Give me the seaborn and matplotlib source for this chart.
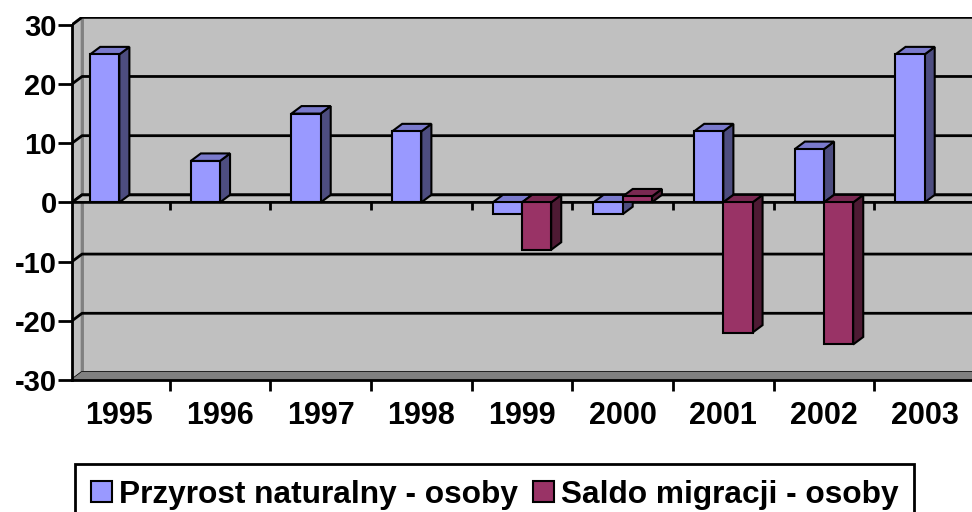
import matplotlib.pyplot as plt
import matplotlib.colors as mcolors
import numpy as np
import pandas as pd
import seaborn as sns
from matplotlib.patches import Polygon, Patch

# data
years = ['1995', '1996', '1997', '1998', '1999', '2000', '2001', '2002', '2003']
przyrost = [25, 7, 15, 12, -2, -2, 12, 9, 25]
saldo = [np.nan, np.nan, np.nan, np.nan, -8, 1, -22, -24, np.nan]
series = ['Przyrost naturalny - osoby', 'Saldo migracji - osoby']
y_ticks = [-30, -20, -10, 0, 10, 20, 30]

blue, red = '#9999ff', '#993366'
side_col = {blue: '#4d4d80', red: '#4d1a33'}
top_col = {blue: '#7a7acc', red: '#7a2952'}

df = pd.DataFrame({
    'rok': years * 2,
    'wartosc': przyrost + saldo,
    'seria': [series[0]] * len(years) + [series[1]] * len(years),
})

plt.rcParams['font.family'] = ['Liberation Sans', 'DejaVu Sans']
plt.rcParams['font.weight'] = 'bold'
plt.rcParams['axes.unicode_minus'] = False

fig = plt.figure(figsize=(9.72, 5.12), dpi=100)
ymin, ymax = -30, 31.4
ax = fig.add_axes([72 / 972, 1 - 380 / 512, 906 / 972, (ymax - ymin) * 5.92 / 512])

sns.barplot(data=df, x='rok', y='wartosc', hue='seria', palette=[blue, red],
            width=0.58, saturation=1, edgecolor='black', linewidth=1.5,
            errorbar=None, legend=False, ax=ax)

xmin, xmax = -0.47, 8.53
dx, dy = 0.1, 1.27
ax.set_xlim(xmin, xmax)
ax.set_ylim(ymin, ymax)
ax.set_facecolor('none')

# 3D walls and floors
ax.add_patch(Polygon([(xmin + dx, -30 + dy), (xmax + dx, -30 + dy), (xmax + dx, 30 + dy), (xmin + dx, 30 + dy)],
                     fc='#c0c0c0', ec='#808080', lw=2, zorder=0))
ax.add_patch(Polygon([(xmin, -30), (xmin + dx, -30 + dy), (xmin + dx, 30 + dy), (xmin, 30)],
                     fc='#c0c0c0', ec='#808080', lw=2, zorder=0.2))
for t in y_ticks:
    ax.plot([xmin, xmin + dx, xmax + dx], [t, t + dy, t + dy], color='black', lw=2, zorder=0.5)
ax.add_patch(Polygon([(xmin, -30), (xmin + dx, -30 + dy), (xmax + dx, -30 + dy), (xmax, -30)],
                     fc='#808080', ec='#808080', lw=1, zorder=1))
ax.add_patch(Polygon([(xmin, 0), (xmin + dx, dy), (xmax + dx, dy), (xmax, 0)],
                     fc='#c0c0c0', ec='black', lw=2, zorder=1.5))
bounds = [i + 0.5 for i in range(len(years) - 1)]
ax.vlines(bounds, -1.2, 0, color='black', lw=2, zorder=1.6)

# depth faces for every bar
bars = [p for p in ax.patches if isinstance(p, plt.Rectangle) and np.isfinite(p.get_height())
        and mcolors.to_hex(p.get_facecolor()) in side_col]
bars.sort(key=lambda p: p.get_x())
for i, p in enumerate(bars):
    x0, w = p.get_x(), p.get_width()
    lo = min(p.get_y(), p.get_y() + p.get_height())
    hi = max(p.get_y(), p.get_y() + p.get_height())
    key = mcolors.to_hex(p.get_facecolor())
    z = 3 + i * 0.1
    ax.add_patch(Polygon([(x0 + w, lo), (x0 + w + dx, lo + dy), (x0 + w + dx, hi + dy), (x0 + w, hi)],
                         fc=side_col[key], ec='black', lw=1.5, zorder=z))
    ax.add_patch(Polygon([(x0, hi), (x0 + dx, hi + dy), (x0 + w + dx, hi + dy), (x0 + w, hi)],
                         fc=top_col[key], ec='black', lw=1.5, zorder=z))
    p.set_zorder(z + 0.05)

for s in ['top', 'right']:
    ax.spines[s].set_visible(False)
ax.spines['left'].set_bounds(-30, 30)
ax.spines['left'].set_linewidth(2)
ax.spines['bottom'].set_linewidth(2)
ax.spines['left'].set_zorder(2)
ax.spines['bottom'].set_zorder(2)

ax.set_yticks(y_ticks)
ax.set_xticks(range(len(years)))
ax.set_xticklabels(years)
ax.set_xticks(bounds, minor=True)
ax.tick_params(axis='y', length=10, width=2, pad=1, labelsize=21)
ax.tick_params(axis='x', which='major', length=0, pad=15, labelsize=22)
ax.tick_params(axis='x', which='minor', length=8, width=2)
ax.set_xlabel('')
ax.set_ylabel('')

handles = [Patch(fc=blue, ec='black', lw=1.5, label=series[0]),
           Patch(fc=red, ec='black', lw=1.5, label=series[1])]
leg = fig.legend(handles=handles, loc='center', bbox_to_anchor=(0.509, 0.034),
                 ncol=2, fontsize=22.8, frameon=True, fancybox=False, edgecolor='black',
                 framealpha=1, handlelength=0.66, handleheight=0.66, handletextpad=0.22,
                 columnspacing=0.5, borderpad=0.48, borderaxespad=0)
leg.get_frame().set_linewidth(2)

fig.savefig('out.png', dpi=100)
